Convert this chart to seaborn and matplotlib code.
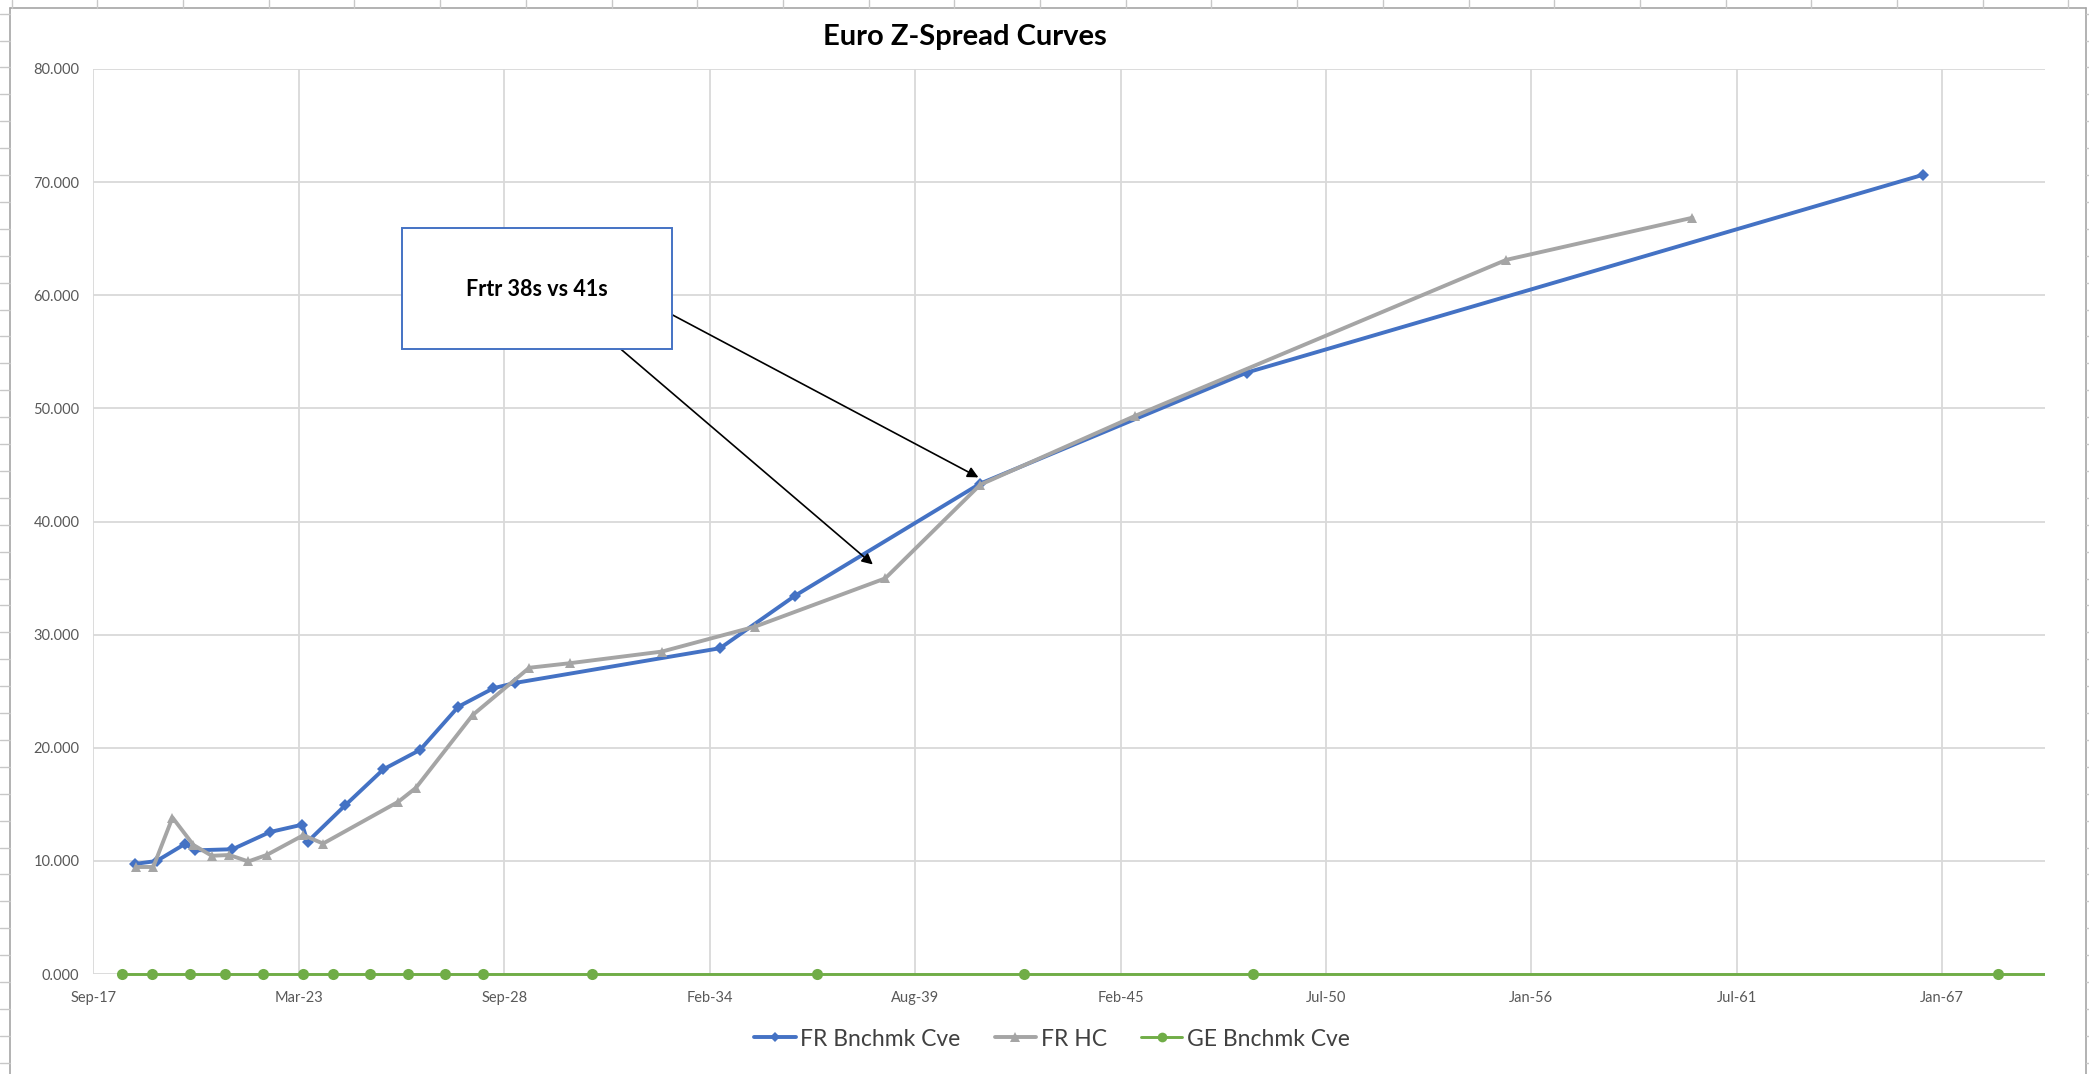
import numpy as np
import pandas as pd
import matplotlib
matplotlib.use("Agg")
import matplotlib.pyplot as plt
import matplotlib.dates as mdates
from matplotlib.lines import Line2D
from matplotlib.patches import Rectangle
from matplotlib.ticker import FuncFormatter
from matplotlib.transforms import Bbox, TransformedBbox
import seaborn as sns

# ---------------- data (dates as Excel serial numbers) ----------------
title = "Euro Z-Spread Curves"
series_names = ["FR Bnchmk Cve", "FR HC", "GE Bnchmk Cve"]

fr_bench_serial = [43406, 43617, 43893, 43990, 44355, 44720, 45034, 45086, 45451,
                   45825, 46181, 46554, 46895, 47106, 49102, 49833, 51634, 54231, 60813]
fr_bench_values = [9.73, 9.99, 11.50, 10.93, 11.03, 12.55, 13.20, 11.69, 14.90,
                   18.10, 19.81, 23.63, 25.26, 25.73, 28.80, 33.45, 43.35, 53.17, 70.65]

fr_hc_serial = [43416, 43584, 43771, 43974, 44153, 44324, 44509, 44688, 45045, 45237,
                45970, 46140, 46694, 47244, 47636, 48535, 49443, 50709, 51634, 53143,
                56756, 58567]
fr_hc_values = [9.46, 9.46, 13.83, 11.41, 10.45, 10.52, 9.95, 10.52, 12.27, 11.53,
                15.23, 16.45, 22.90, 27.07, 27.47, 28.50, 30.71, 34.97, 43.25, 49.34,
                63.13, 66.85]

ge_bench_serial = [43277, 43574, 43942, 44282, 44650, 45039, 45331, 45694, 46061,
                   46425, 46792, 47851, 50047, 52063, 54289, 61541, 63000]
ge_bench_values = [0.0, 0.0, 0.0, 0.0, 0.0, 0.0, 0.0, 0.0, 0.0,
                   0.0, 0.0, 0.0, 0.0, 0.0, 0.0, 0.0, 0.0]

x_min_serial, x_max_serial, x_step_days = 43000, 62000, 2000
y_ticks = [0, 10, 20, 30, 40, 50, 60, 70, 80]

annotation_text = "Frtr 38s vs 41s"
annotation_target_serial = [51617, 50589]
annotation_target_values = [43.9, 36.2]

colors = ["#4472C4", "#A5A5A5", "#70AD47"]
markers = ["D", "^", "o"]
marker_sizes = [6.0, 7.5, 8.0]
line_widths = [2.8, 2.8, 2.1]

# ---------------- helpers ----------------
W, H = 2089, 1074


def to_dt(serials):
    return pd.to_datetime(pd.Series(serials, dtype=float), unit="D", origin="1899-12-30")


def fx(px):
    return px / W


def fy(py):
    return 1 - py / H


sns.set_theme(style="white")
plt.rcParams["font.family"] = ["Lato", "DejaVu Sans"]

fig = plt.figure(figsize=(W / 100, H / 100), dpi=100)
fig.patch.set_facecolor("white")

left, right, top, bottom = 93.3, 2045, 69, 974
ax = fig.add_axes([fx(left), fy(bottom), (right - left) / W, (bottom - top) / H])
ax.set_facecolor("white")

frames = [
    pd.DataFrame({"date": to_dt(fr_bench_serial), "value": fr_bench_values}),
    pd.DataFrame({"date": to_dt(fr_hc_serial), "value": fr_hc_values}),
    pd.DataFrame({"date": to_dt(ge_bench_serial), "value": ge_bench_values}),
]

# clip horizontally at the plot edges, but let markers at y=0 show fully
clip_box = TransformedBbox(Bbox([[0.0, -0.03], [1.0, 1.03]]), ax.transAxes)

handles = []
for i, df in enumerate(frames):
    sns.lineplot(data=df, x="date", y="value", ax=ax, color=colors[i],
                 marker=markers[i], markersize=marker_sizes[i], markeredgewidth=0,
                 linewidth=line_widths[i], legend=False, zorder=3 + i, estimator=None)
    ln = ax.lines[-1]
    ln.set_clip_box(clip_box)
    handles.append(Line2D([], [], color=colors[i], marker=markers[i],
                          markersize=marker_sizes[i] - 1, markeredgewidth=0,
                          linewidth=line_widths[i]))

ax.set_xlim(to_dt([x_min_serial])[0], to_dt([x_max_serial])[0])
ax.set_ylim(0, 80)
ax.set_xticks(to_dt(list(range(x_min_serial, x_max_serial, x_step_days))))
ax.xaxis.set_major_formatter(mdates.DateFormatter("%b-%y"))
ax.set_yticks(y_ticks)
ax.yaxis.set_major_formatter(FuncFormatter(lambda v, p: f"{v:.3f}"))
ax.set_xlabel("")
ax.set_ylabel("")
ax.grid(True, color="#D9D9D9", linewidth=1.3, zorder=0)
ax.set_axisbelow(True)
for s in ax.spines.values():
    s.set_visible(False)
ax.tick_params(axis="both", length=0, labelcolor="#595959", labelsize=10.5)
ax.tick_params(axis="x", pad=12)
ax.tick_params(axis="y", pad=10)

# title
fig.text(fx(724.5 * W / 1568), fy(37.3), title, ha="center", va="center",
         fontsize=21, fontweight="bold", color="black")

# legend
leg = fig.legend(handles, series_names, loc="center",
                 bbox_to_anchor=(fx(1052), fy(1039)), ncol=3, frameon=False,
                 fontsize=16.5, handlelength=1.8, handletextpad=0.2,
                 columnspacing=1.5)
for t in leg.get_texts():
    t.set_color("#404040")

# annotation box
bx0, by0, bx1, by1 = 402.4, 227.8, 671.5, 349.1
box = Rectangle((fx(bx0), fy(by1)), (bx1 - bx0) / W, (by1 - by0) / H,
                transform=fig.transFigure, facecolor="white",
                edgecolor="#4472C4", linewidth=1.4, zorder=10)
fig.add_artist(box)
fig.text(fx((bx0 + bx1) / 2), fy(289), annotation_text, ha="center", va="center",
         fontsize=15.5, fontweight="bold", color="black", zorder=11)

starts = [(671.5, 314.4), (620.8, 349.1)]
tdates = to_dt(annotation_target_serial)
for (sx, sy), d, v in zip(starts, tdates, annotation_target_values):
    ax.annotate("", xy=(mdates.date2num(d), v), xycoords="data",
                xytext=(fx(sx), fy(sy)), textcoords="figure fraction",
                arrowprops=dict(arrowstyle="-|>", color="black", lw=1.2,
                                mutation_scale=16, shrinkA=0, shrinkB=0),
                annotation_clip=False, zorder=9)

# Excel chart-area frame and sheet gridline stubs
frame_col = "#A6A6A6"
fig.add_artist(Line2D([fx(10), fx(10)], [fy(8), fy(1074)], transform=fig.transFigure,
                      color=frame_col, lw=1.2))
fig.add_artist(Line2D([fx(10), fx(2086)], [fy(8), fy(8)], transform=fig.transFigure,
                      color=frame_col, lw=1.2))
fig.add_artist(Line2D([fx(2086), fx(2086)], [fy(8), fy(1074)], transform=fig.transFigure,
                      color=frame_col, lw=1.2))
stub_col = "#C8C8C8"
for k in range(0, 25):
    xx = 11.6 + k * 85.7
    fig.add_artist(Line2D([fx(xx), fx(xx)], [fy(0), fy(8)], transform=fig.transFigure,
                          color=stub_col, lw=1))
for k in range(0, 40):
    yy = 13.6 + k * 26.9
    if yy > H:
        break
    fig.add_artist(Line2D([fx(0), fx(10)], [fy(yy), fy(yy)], transform=fig.transFigure,
                          color=stub_col, lw=1))
    fig.add_artist(Line2D([fx(2086), fx(2089)], [fy(yy), fy(yy)], transform=fig.transFigure,
                          color=stub_col, lw=1))

fig.savefig("out.png", dpi=100, facecolor="white")
